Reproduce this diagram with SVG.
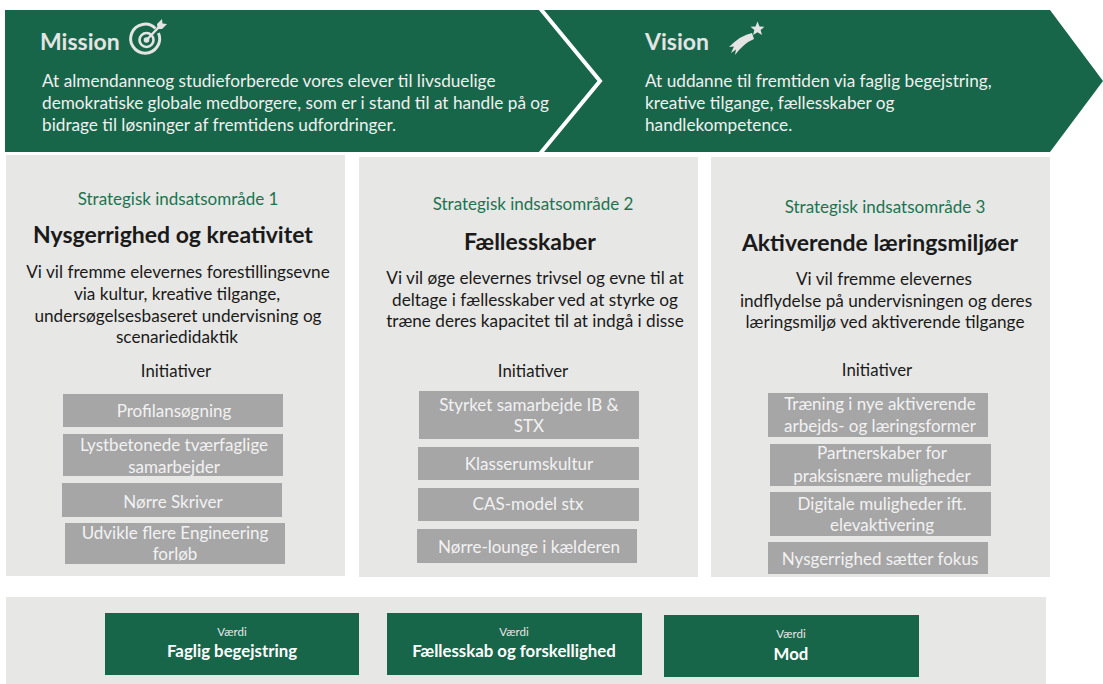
<svg xmlns="http://www.w3.org/2000/svg" width="1103" height="684" viewBox="0 0 1103 684">
<style>
text{font-family:Lato,"Open Sans","Liberation Sans",sans-serif}
.hdr{font-size:23px;font-weight:bold;fill:#e4e4e4}
.btxt{font-size:17.2px;fill:#f0f0f0}
.panel{fill:#e7e7e5}
.sub{font-size:17px;fill:#1e7350;text-anchor:middle}
.ttl{font-size:23px;font-weight:bold;fill:#1a1a1a;text-anchor:middle}
.desc{font-size:17.2px;fill:#1a1a1a;text-anchor:middle}
.ini{font-size:16.8px;fill:#1a1a1a;text-anchor:middle}
.box{fill:#a6a6a6}
.boxt{font-size:17px;fill:#f2f2f2;text-anchor:middle}
.val{fill:#176649}
.vs{font-size:11.5px;fill:#e8e8e8;text-anchor:middle}
.vt{font-size:16.8px;font-weight:bold;fill:#ffffff;text-anchor:middle}
</style>
<rect width="1103" height="684" fill="#ffffff"/>
<g id="banner">
<polygon points="5,10 1050,10 1103,81 1050,152 5,152" fill="#176649"/>
<polyline points="539,7 600,81 539,155" fill="none" stroke="#ffffff" stroke-width="4"/>
</g>
<g id="mission">
<text class="hdr" x="40" y="50">Mission</text>
<g id="target-icon" fill="none" stroke="#e4e4e4">
<path d="M155.5,28.5 A14.5,14.5 0 1 0 158.5,33" stroke-width="3"/>
<circle cx="146.5" cy="40" r="7" stroke-width="2.6"/>
<circle cx="146.5" cy="40" r="2.8" fill="#e4e4e4" stroke="none"/>
<line x1="146.5" y1="40" x2="159" y2="27" stroke-width="2.4"/>
<polygon points="157,24 162,19 162.5,23.5 167,24 162,29 157.5,29" fill="#e4e4e4" stroke="none"/>
</g>
<text class="btxt" x="42" y="87">At almendanneog studieforberede vores elever til livsduelige</text>
<text class="btxt" x="42" y="109">demokratiske globale medborgere, som er i stand til at handle på og</text>
<text class="btxt" x="42" y="131">bidrage til løsninger af fremtidens udfordringer.</text>
</g>
<g id="vision">
<text class="hdr" x="645" y="50">Vision</text>
<g id="star-icon" fill="#e4e4e4">
<polygon points="757.5,21.5 759.5,26.5 764.5,26.8 760.6,30 762,35 757.5,32.2 753,35 754.4,30 750.5,26.8 755.5,26.5"/>
<path d="M752,33 Q741,35 729,47 L734,46.5 L731,53 L736,49.5 L735,55 Q744,43 754,39 Z"/>
</g>
<text class="btxt" x="645" y="87">At uddanne til fremtiden via faglig begejstring,</text>
<text class="btxt" x="645" y="109">kreative tilgange, fællesskaber og</text>
<text class="btxt" x="645" y="131">handlekompetence.</text>
</g>
<g id="area1">
<rect class="panel" x="6" y="155" width="339" height="421"/>
<text class="sub" x="178" y="205">Strategisk indsatsområde 1</text>
<text class="ttl" x="173" y="243">Nysgerrighed og kreativitet</text>
<text class="desc" x="178" y="278">Vi vil fremme elevernes forestillingsevne</text>
<text class="desc" x="177" y="300">via kultur, kreative tilgange,</text>
<text class="desc" x="178" y="322">undersøgelsesbaseret undervisning og</text>
<text class="desc" x="177" y="343">scenariedidaktik</text>
<text class="ini" x="176" y="377">Initiativer</text>
<g id="i1-1"><rect class="box" x="63" y="394" width="220" height="33"/><text class="boxt" x="174" y="417">Profilansøgning</text></g>
<g id="i1-2"><rect class="box" x="63" y="434" width="220" height="42"/><text class="boxt" x="174" y="451">Lystbetonede tværfaglige</text><text class="boxt" x="174" y="473">samarbejder</text></g>
<g id="i1-3"><rect class="box" x="62" y="483" width="220" height="34"/><text class="boxt" x="173" y="508">Nørre Skriver</text></g>
<g id="i1-4"><rect class="box" x="65" y="523" width="220" height="41"/><text class="boxt" x="175" y="539">Udvikle flere Engineering</text><text class="boxt" x="175" y="560">forløb</text></g>
</g>
<g id="area2">
<rect class="panel" x="359" y="157" width="339" height="420"/>
<text class="sub" x="533" y="210">Strategisk indsatsområde 2</text>
<text class="ttl" x="530" y="250">Fællesskaber</text>
<text class="desc" x="535" y="284">Vi vil øge elevernes trivsel og evne til at</text>
<text class="desc" x="535" y="306">deltage i fællesskaber ved at styrke og</text>
<text class="desc" x="535" y="327">træne deres kapacitet til at indgå i disse</text>
<text class="ini" x="533" y="377">Initiativer</text>
<g id="i2-1"><rect class="box" x="419" y="391" width="220" height="48"/><text class="boxt" x="529" y="411">Styrket samarbejde IB &amp;</text><text class="boxt" x="529" y="432">STX</text></g>
<g id="i2-2"><rect class="box" x="418" y="447" width="221" height="33"/><text class="boxt" x="529" y="470">Klasserumskultur</text></g>
<g id="i2-3"><rect class="box" x="418" y="488" width="221" height="33"/><text class="boxt" x="528" y="510">CAS-model stx</text></g>
<g id="i2-4"><rect class="box" x="417" y="529" width="220" height="34"/><text class="boxt" x="529" y="553">Nørre-lounge i kælderen</text></g>
</g>
<g id="area3">
<rect class="panel" x="711" y="157" width="339" height="420"/>
<text class="sub" x="885" y="213">Strategisk indsatsområde 3</text>
<text class="ttl" x="880" y="251">Aktiverende læringsmiljøer</text>
<text class="desc" x="884" y="285">Vi vil fremme elevernes</text>
<text class="desc" x="886" y="307">indflydelse på undervisningen og deres</text>
<text class="desc" x="885" y="328">læringsmiljø ved aktiverende tilgange</text>
<text class="ini" x="877" y="376">Initiativer</text>
<g id="i3-1"><rect class="box" x="768" y="393" width="220" height="44"/><text class="boxt" x="880" y="410">Træning i nye aktiverende</text><text class="boxt" x="880" y="432">arbejds- og læringsformer</text></g>
<g id="i3-2"><rect class="box" x="770" y="444" width="221" height="42"/><text class="boxt" x="882" y="459">Partnerskaber for</text><text class="boxt" x="882" y="482">praksisnære muligheder</text></g>
<g id="i3-3"><rect class="box" x="770" y="492" width="221" height="44"/><text class="boxt" x="882" y="510">Digitale muligheder ift.</text><text class="boxt" x="882" y="531">elevaktivering</text></g>
<g id="i3-4"><rect class="box" x="768" y="542" width="220" height="32"/><text class="boxt" x="880" y="565">Nysgerrighed sætter fokus</text></g>
</g>
<g id="values">
<rect class="panel" x="6" y="597" width="1040" height="87"/>
<g id="v1"><rect class="val" x="105" y="613" width="254" height="62"/><text class="vs" x="232" y="636">Værdi</text><text class="vt" x="232" y="657">Faglig begejstring</text></g>
<g id="v2"><rect class="val" x="387" y="613" width="255" height="62"/><text class="vs" x="514" y="636">Værdi</text><text class="vt" x="514" y="657">Fællesskab og forskellighed</text></g>
<g id="v3"><rect class="val" x="664" y="615" width="255" height="62"/><text class="vs" x="791" y="638">Værdi</text><text class="vt" x="791" y="660">Mod</text></g>
</g>
<g id="connectors"></g>
</svg>
